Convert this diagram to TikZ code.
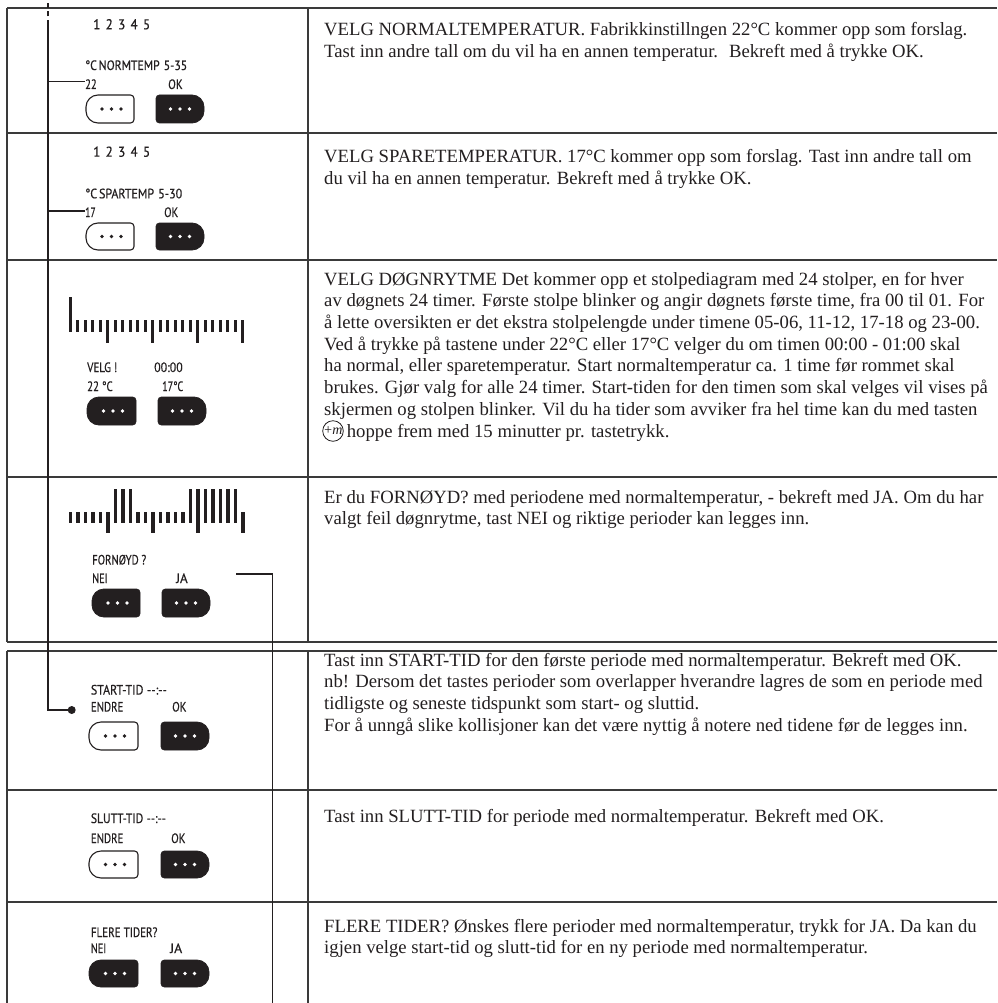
\documentclass[tikz,border=0pt]{standalone}
\usepackage{fontspec}
\setmainfont{Liberation Serif}
\newfontfamily\lcdfont[FakeBold=0.5]{PT Sans}
\definecolor{ink}{HTML}{231F20}
\definecolor{rulec}{HTML}{3A3A3A}
\tikzset{
  tline/.style={draw=rulec, line width=1.2pt},
  conn/.style={draw=ink, line width=1.6pt},
  lcd/.style={inner sep=0pt, anchor=base west, text=ink},
  desc/.style={font=\fontsize{18.7}{21}\selectfont, inner sep=0pt, anchor=base west, text=ink},
  bar/.style={fill=ink},
  keyfill/.style={fill=ink, draw=ink, line width=0.8pt},
  keyline/.style={fill=white, draw=ink, line width=1.1pt},
}
% LCD label scaled to a given width (pt) and cap height
\newcommand\lcdbox[3][9.5]{\resizebox{#2pt}{#1pt}{\lcdfont\fontsize{14}{14}\selectfont
  \raisebox{0pt}[\fontcharht\font`\E][\fontchardp\font`\E]{#3}}}
% key with large radius on the left: x0,y0,x1,y1,style,dotcolour
\newcommand\keyBigLeft[6]{%
  \draw[#5, rounded corners=12pt] ({(#1+#3)/2},#2) -- (#1,#2) -- (#1,#4) -- ({(#1+#3)/2},#4)
    [rounded corners=3.5pt] -- (#3,#4) -- (#3,#2) -- cycle;
  \foreach \dx in {-9.5,0,9.5}{\fill[#6] ({(#1+#3)/2+1.5+\dx},{(#2+#4)/2}) circle (1.8pt);}}
% key with large radius on the right
\newcommand\keyBigRight[6]{%
  \draw[#5, rounded corners=3.5pt] ({(#1+#3)/2},#2) -- (#1,#2) -- (#1,#4) -- ({(#1+#3)/2},#4)
    [rounded corners=12pt] -- (#3,#4) -- (#3,#2) -- cycle;
  \foreach \dx in {-9.5,0,9.5}{\fill[#6] ({(#1+#3)/2+\dx},{(#2+#4)/2}) circle (1.8pt);}}
\begin{document}
\begin{tikzpicture}[x=1pt,y=-1pt]
\useasboundingbox (0,0) rectangle (997,1003);
\fill[white] (0,0) rectangle (997,1003);

% ---------- tables ----------
\foreach \yy in {8,133,260,477,642}{\draw[tline] (7,\yy) -- (997,\yy);}
\draw[tline] (7,8) -- (7,642);
\draw[tline] (308,8) -- (308,642);
\foreach \yy in {651,790,902}{\draw[tline] (7,\yy) -- (997,\yy);}
\draw[tline] (7,651) -- (7,1003);
\draw[tline] (308,651) -- (308,1003);

% ---------- row 1 ----------
\node[lcd] (r1d) at (93,29.3) {\lcdbox[10]{57}{1\hspace{0.4em}2\hspace{0.4em}3\hspace{0.4em}4\hspace{0.4em}5}};
\node[lcd] (r1h) at (85,70) {\lcdbox{102}{°C\kern0.16em NORMTEMP\hspace{0.35em}5-35}};
\node[lcd] (r1v) at (85,89) {\lcdbox{11.5}{22}};
\node[lcd] (r1ok) at (168,89) {\lcdbox{14.5}{OK}};
\keyBigLeft{86}{95}{134}{123}{keyline}{ink}
\keyBigRight{156}{95}{204}{123}{keyfill}{white}

% ---------- row 2 ----------
\node[lcd] (r2d) at (93,156.7) {\lcdbox[10]{57}{1\hspace{0.4em}2\hspace{0.4em}3\hspace{0.4em}4\hspace{0.4em}5}};
\node[lcd] (r2h) at (85,198.3) {\lcdbox{97}{°C\kern0.16em SPARTEMP\hspace{0.35em}5-30}};
\node[lcd] (r2v) at (85,217) {\lcdbox{10.5}{17}};
\node[lcd] (r2ok) at (164,217) {\lcdbox{14}{OK}};
\keyBigLeft{86}{223}{134}{250}{keyline}{ink}
\keyBigRight{156}{223}{204}{250}{keyfill}{white}

% ---------- row 3 ----------
\foreach \i in {0,...,23}{\fill[bar] ({70.3+7.5*\i-1.65},320) rectangle ++(3.3,11.7);}
\foreach \i in {5,11,17,23}{\fill[bar] ({70.3+7.5*\i-1.65},331) rectangle ++(3.3,11.7);}
\foreach \i in {0}{\fill[bar] ({70.3+7.5*\i-1.65},296.7) rectangle ++(3.3,24);}
\node[lcd] (r3a) at (87,372) {\lcdbox{30}{VELG !}};
\node[lcd] (r3b) at (154,372) {\lcdbox{28.5}{00:00}};
\node[lcd] (r3c) at (87,391) {\lcdbox{25.5}{22 °C}};
\node[lcd] (r3e) at (162,391) {\lcdbox{21}{17°C}};
\keyBigLeft{87}{397}{136}{425}{keyfill}{white}
\keyBigRight{158}{397}{206}{425}{keyfill}{white}

% ---------- row 4 ----------
\foreach \i in {0,...,23}{\fill[bar] ({70.5+7.5*\i-1.65},511.7) rectangle ++(3.3,11.6);}
\foreach \i in {5,11,17,23}{\fill[bar] ({70.5+7.5*\i-1.65},522) rectangle ++(3.3,11.3);}
\foreach \i in {6,7,8,16,17,18,19,20,21,22}{\fill[bar] ({70.5+7.5*\i-1.65},489) rectangle ++(3.3,23.5);}
\node[lcd] (r4a) at (92,564.5) {\lcdbox{54}{FORNØYD ?}};
\node[lcd] (r4n) at (92,583) {\lcdbox{15.5}{NEI}};
\node[lcd] (r4j) at (176,583) {\lcdbox{11.5}{JA}};
\keyBigLeft{92}{589}{140}{617}{keyfill}{white}
\keyBigRight{162}{589}{210}{617}{keyfill}{white}

% ---------- row 5 ----------
\node[lcd] (r5a) at (90.7,694.5) {\lcdbox{76}{START-TID\hspace{0.3em}-{}-:-{}-}};
\node[lcd] (r5e) at (90.7,711.5) {\lcdbox{32.5}{ENDRE}};
\node[lcd] (r5ok) at (172,711.5) {\lcdbox{14.3}{OK}};
\keyBigLeft{89}{722}{138}{750}{keyline}{ink}
\keyBigRight{161}{722}{209}{750}{keyfill}{white}

% ---------- row 6 ----------
\node[lcd] (r6a) at (90.7,823) {\lcdbox{75}{SLUTT-TID\hspace{0.3em}-{}-:-{}-}};
\node[lcd] (r6e) at (90.7,843) {\lcdbox{32.5}{ENDRE}};
\node[lcd] (r6ok) at (171,843) {\lcdbox{14.3}{OK}};
\keyBigLeft{89}{851}{138}{878}{keyline}{ink}
\keyBigRight{161}{851}{209}{878}{keyfill}{white}

% ---------- row 7 ----------
\node[lcd] (r7a) at (90.7,937) {\lcdbox{66.5}{FLERE TIDER?}};
\node[lcd] (r7n) at (90.7,953) {\lcdbox{15.3}{NEI}};
\node[lcd] (r7j) at (170,953) {\lcdbox{12}{JA}};
\keyBigLeft{89}{960}{138}{987}{keyfill}{white}
\keyBigRight{161}{960}{209}{987}{keyfill}{white}

% ---------- connectors ----------
\coordinate (ctop) at (48,0);
\coordinate (cdash) at (48,25);
\coordinate (cturn) at (48,710);
\coordinate (cdot) at (71.7,710);
\draw[conn, dash pattern=on 5pt off 3.5pt] (cdash) -- (ctop);
\draw[conn] (cdash) -- (cturn) -- (cdot);
\fill[ink] (cdot) circle (4pt);
\coordinate (b1) at (48,81.7);
\coordinate (b2) at (48,210.7);
\draw[conn] (b1) -- (b1 -| r1v.west);
\draw[conn] (b2) -- (b2 -| r2v.west);
\coordinate (ja) at (236,574);
\coordinate (jturn) at (272.5,574);
\coordinate (jend) at (272.5,1003);
\draw[conn] (ja) -- (jturn) -- (jend);

% ---------- descriptions ----------
\foreach \t [count=\i from 0] in {
  {VELG NORMALTEMPERATUR. Fabrikkinstillngen 22°C kommer opp som forslag.},
  {Tast inn andre tall om du vil ha en annen temperatur. \ Bekreft med å trykke OK.}}
  {\node[desc] (d1-\i) at (324,{36+21.7*\i}) {\t};}
\foreach \t [count=\i from 0] in {
  {VELG SPARETEMPERATUR. 17°C kommer opp som forslag. Tast inn andre tall om},
  {du vil ha en annen temperatur. Bekreft med å trykke OK.}}
  {\node[desc] (d2-\i) at (324,{163+21.7*\i}) {\t};}
\foreach \t [count=\i from 0] in {
  {VELG DØGNRYTME Det kommer opp et stolpediagram med 24 stolper, en for hver},
  {av døgnets 24 timer. Første stolpe blinker og angir døgnets første time, fra 00 til 01. For},
  {å lette oversikten er det ekstra stolpelengde under timene 05-06, 11-12, 17-18 og 23-00.},
  {Ved å trykke på tastene under 22°C eller 17°C velger du om timen 00:00 - 01:00 skal},
  {ha normal, eller sparetemperatur. Start normaltemperatur ca. 1 time før rommet skal},
  {brukes. Gjør valg for alle 24 timer. Start-tiden for den timen som skal velges vil vises på},
  {skjermen og stolpen blinker. Vil du ha tider som avviker fra hel time kan du med tasten}}
  {\node[desc] (d3-\i) at (324,{285+21.7*\i}) {\t};}
\node[draw=ink, circle, line width=0.8pt, minimum size=17pt, inner sep=0pt,
      font=\itshape\fontsize{14}{14}\selectfont, text=ink] (plusm) at (333,431) {+\kern-0.5pt m};
\node[desc] (d3-7) at ([xshift=3pt]plusm.east |- 0,437) {hoppe frem med 15 minutter pr. tastetrykk.};
\foreach \t [count=\i from 0] in {
  {Er du FORNØYD? med periodene med normaltemperatur, - bekreft med JA. Om du har},
  {valgt feil døgnrytme, tast NEI og riktige perioder kan legges inn.}}
  {\node[desc] (d4-\i) at (324,{503+21.7*\i}) {\t};}
\foreach \t [count=\i from 0] in {
  {Tast inn START-TID for den første periode med normaltemperatur. Bekreft med OK.},
  {nb! Dersom det tastes perioder som overlapper hverandre lagres de som en periode med},
  {tidligste og seneste tidspunkt som start- og sluttid.},
  {For å unngå slike kollisjoner kan det være nyttig å notere ned tidene før de legges inn.}}
  {\node[desc] (d5-\i) at (324,{666+21.7*\i}) {\t};}
\node[desc] (d6-0) at (324,822) {Tast inn SLUTT-TID for periode med normaltemperatur. Bekreft med OK.};
\foreach \t [count=\i from 0] in {
  {FLERE TIDER? Ønskes flere perioder med normaltemperatur, trykk for JA. Da kan du},
  {igjen velge start-tid og slutt-tid for en ny periode med normaltemperatur.}}
  {\node[desc] (d7-\i) at (324,{932+21.7*\i}) {\t};}
\end{tikzpicture}
\end{document}
